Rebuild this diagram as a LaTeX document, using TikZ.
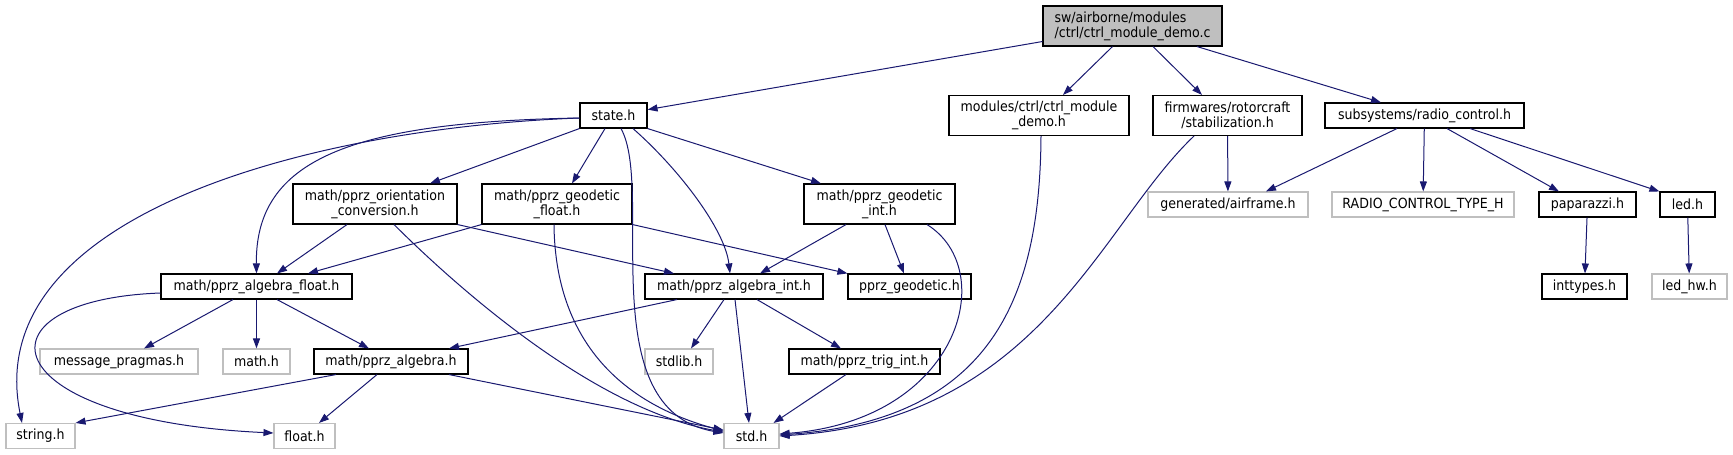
\documentclass[tikz,border=0pt]{standalone}
\usepackage{fontspec}
\setmainfont{DejaVu Sans}[FakeStretch=0.9]
\usepackage{tikz}
\usetikzlibrary{arrows.meta}

\definecolor{depblue}{HTML}{191970}
\definecolor{boxgray}{HTML}{BFBFBF}
\tikzset{
    hdr/.style={draw=black, line width=1.1pt, inner sep=0pt, minimum height=25pt, align=center, font=\fontsize{14}{15}\selectfont},
    sys/.style={hdr, draw=boxgray},
    dep/.style={draw=depblue, line width=1pt, -{Triangle[length=10pt,width=7pt,fill=depblue]}}
}

\begin{document}
\begin{tikzpicture}[x=1pt, y=-1pt]
    \useasboundingbox (0,0) rectangle (1733,455);

    % Main file
    \node[hdr, fill=boxgray, align=left, minimum width=179pt, minimum height=40pt] (demo) at (1132.5,26) {sw/airborne/modules\\/ctrl/ctrl\_module\_demo.c};

    % Project headers
    \node[hdr, minimum width=67pt] (state) at (613.5,115.5) {state.h};
    \node[hdr, minimum width=180pt, minimum height=40pt] (ctrldemo) at (1039,115.5) {modules/ctrl/ctrl\_module\\\_demo.h};
    \node[hdr, minimum width=149pt, minimum height=40pt] (stab) at (1227.5,115.5) {firmwares/rotorcraft\\/stabilization.h};
    \node[hdr, minimum width=199pt] (radio) at (1424.5,115.5) {subsystems/radio\_control.h};
    \node[hdr, minimum width=164pt, minimum height=40pt] (orient) at (375,204) {math/pprz\_orientation\\\_conversion.h};
    \node[hdr, minimum width=150pt, minimum height=40pt] (geofloat) at (557,204) {math/pprz\_geodetic\\\_float.h};
    \node[hdr, minimum width=151pt, minimum height=40pt] (geoint) at (879.5,204) {math/pprz\_geodetic\\\_int.h};
    \node[hdr, minimum width=97pt] (paparazzi) at (1587.5,204.5) {paparazzi.h};
    \node[hdr, minimum width=55pt] (led) at (1687.5,204.5) {led.h};
    \node[hdr, minimum width=191pt] (algfloat) at (256.5,286.5) {math/pprz\_algebra\_float.h};
    \node[hdr, minimum width=178pt] (algint) at (734,286.5) {math/pprz\_algebra\_int.h};
    \node[hdr, minimum width=123pt] (geodetic) at (909.5,286.5) {pprz\_geodetic.h};
    \node[hdr, minimum width=85pt] (inttypes) at (1584.5,286.5) {inttypes.h};
    \node[hdr, minimum width=154pt] (algebra) at (391,361.5) {math/pprz\_algebra.h};
    \node[hdr, minimum width=151pt] (trig) at (864.5,361.5) {math/pprz\_trig\_int.h};

    % System / generated headers
    \node[sys, minimum width=160pt] (airframe) at (1228,204.5) {generated/airframe.h};
    \foreach \name/\pos/\w/\txt in {rctype/{1423,204.5}/182/RADIO\_CONTROL\_TYPE\_H,
        ledhw/{1689.5,286.5}/75/led\_hw.h, msgprag/{119,361.5}/158/message\_pragmas.h,
        mathh/{256.5,361.5}/67/math.h, stdlib/{679,361.5}/68/stdlib.h,
        string/{40.5,436}/69/string.h, float/{304.5,436}/61/float.h, std/{751.5,436}/55/std.h} {
        \node[sys, minimum width=\w pt] (\name) at (\pos) {\txt};
    }

    % Main file includes
    \draw[dep] (demo) -- (state);
    \draw[dep] ([xshift=-20pt]demo.south) -- ([xshift=24pt]ctrldemo.north);
    \draw[dep] ([xshift=20.5pt]demo.south) -- ([xshift=-25.5pt]stab.north);
    \draw[dep] ([xshift=64.5pt]demo.south) -- ([xshift=-43.5pt]radio.north);

    % state.h includes
    \draw[dep] ([yshift=-2.5pt]state.west) .. controls (310,128) and (-20,215) .. ([xshift=-18.5pt]string.north);
    \draw[dep] ([yshift=-2.5pt]state.west) .. controls (350,122) and (255,160) .. (algfloat.north);
    \draw[dep] (state.south west) -- ([xshift=55pt]orient.north);
    \draw[dep] ([xshift=-8.5pt]state.south) -- ([xshift=15pt]geofloat.north);
    \draw[dep] ([xshift=7.5pt]state.south) .. controls (655,190) and (590,410) .. ([yshift=3pt]std.west);
    \draw[dep] ([xshift=19.5pt]state.south) .. controls (680,170) and (725,230) .. ([xshift=-4pt]algint.north);
    \draw[dep] (state.south east) -- ([xshift=-58.5pt]geoint.north);

    % conversions and geodetic
    \draw[dep] ([xshift=-28pt]orient.south) -- ([xshift=20.5pt]algfloat.north);
    \draw[dep] (orient.south east) -- ([xshift=-60pt]algint.north);
    \draw[dep] ([xshift=19pt]orient.south) .. controls (470,300) and (600,410) .. ([yshift=4pt]std.west);
    \draw[dep] (geofloat.south west) -- ([xshift=51.5pt]algfloat.north);
    \draw[dep] ([xshift=-3pt]geofloat.south) .. controls (555,330) and (610,400) .. ([yshift=5pt]std.west);
    \draw[dep] (geofloat.south east) -- (geodetic.north west);
    \draw[dep] ([xshift=-33.5pt]geoint.south) -- ([xshift=26pt]algint.north);
    \draw[dep] ([xshift=5.5pt]geoint.south) -- ([xshift=-5.5pt]geodetic.north);
    \draw[dep] ([xshift=47.5pt]geoint.south) .. controls (1000,270) and (960,420) .. ([yshift=2pt]std.east);

    % algebra
    \draw[dep] ([yshift=-6.5pt]algfloat.west) .. controls (-30,300) and (-10,420) .. ([yshift=3pt]float.west);
    \draw[dep] ([xshift=-23.5pt]algfloat.south) -- ([xshift=25pt]msgprag.north);
    \draw[dep] (algfloat) -- (mathh);
    \draw[dep] ([xshift=20.5pt]algfloat.south) -- ([xshift=-22pt]algebra.north);
    \draw[dep] ([xshift=-57pt]algint.south) -- ([xshift=58pt]algebra.north);
    \draw[dep] ([xshift=-10pt]algint.south) -- ([xshift=12pt]stdlib.north);
    \draw[dep] ([xshift=1pt]algint.south) -- ([xshift=-2.5pt]std.north);
    \draw[dep] ([xshift=23pt]algint.south) -- ([xshift=-23.5pt]trig.north);
    \draw[dep] ([xshift=-55pt]algebra.south) -- (string.north east);
    \draw[dep] ([xshift=-14pt]algebra.south) -- ([xshift=14.5pt]float.north);
    \draw[dep] ([xshift=58pt]algebra.south) -- ([yshift=6pt]std.west);
    \draw[dep] ([xshift=-18.5pt]trig.south) -- ([xshift=22pt]std.north);

    % module, stabilization, radio
    \draw[dep] ([xshift=2pt]ctrldemo.south) .. controls (1040,300) and (990,420) .. ([yshift=1pt]std.east);
    \draw[dep] ([xshift=-33.5pt]stab.south) .. controls (1100,225) and (1040,420) .. (std.east);
    \draw[dep] (stab) -- (airframe);
    \draw[dep] ([xshift=-27.5pt]radio.south) -- ([xshift=38pt]airframe.north);
    \draw[dep] (radio) -- (rctype);
    \draw[dep] ([xshift=22.5pt]radio.south) -- ([xshift=-28.5pt]paparazzi.north);
    \draw[dep] ([xshift=45.5pt]radio.south) -- (led.north west);
    \draw[dep] (paparazzi) -- (inttypes);
    \draw[dep] (led) -- (ledhw);
\end{tikzpicture}
\end{document}
